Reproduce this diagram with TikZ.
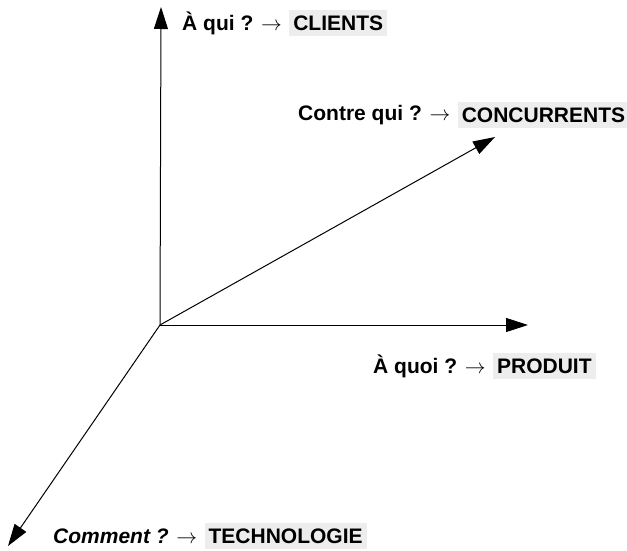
\documentclass[tikz,border=0pt]{standalone}
\usepackage{fontspec}
\setmainfont{Liberation Sans}
\usepackage{xcolor}
\definecolor{screenGray}{HTML}{EDEDED}
\usetikzlibrary{arrows.meta, positioning}

\begin{document}
\begin{tikzpicture}[
  x=1pt, y=-1pt,
  axis/.style={line width=1pt, -{Triangle[length=22pt, width=14pt]}},
  quest/.style={inner sep=1pt, font=\fontsize{21}{24}\selectfont\bfseries},
  keyword/.style={fill=screenGray, inner xsep=4pt, inner ysep=6pt, font=\fontsize{21}{24}\selectfont\bfseries}
]
  \useasboundingbox (0,0) rectangle (627,551);

  % Axes from the origin
  \coordinate (orig) at (160,325);
  \coordinate (up)   at (161,7);
  \coordinate (rt)   at (528,325);
  \coordinate (diag) at (495,137);
  \coordinate (dl)   at (8,546);

  \draw[axis] (orig) -- (up);
  \draw[axis] (orig) -- (rt);
  \draw[axis] (orig) -- (diag);
  \draw[axis] (orig) -- (dl);

  % Labels
  \node[quest, anchor=west] at (181,23)  (qclients) {À qui ? $\rightarrow$};
  \node[keyword, right=6pt of qclients]  (clients)  {CLIENTS};

  \node[quest, anchor=west] at (297,115) (qconc)    {Contre qui ? $\rightarrow$};
  \node[keyword, right=6pt of qconc]     (conc)     {CONCURRENTS};

  \node[quest, anchor=west] at (372,366) (qprod)    {À quoi ? $\rightarrow$};
  \node[keyword, right=6pt of qprod]     (prod)     {PRODUIT};

  \node[quest, anchor=west] at (52,536)  (qtech)    {\itshape Comment ? $\rightarrow$};
  \node[keyword, right=6pt of qtech]     (tech)     {TECHNOLOGIE};
\end{tikzpicture}
\end{document}
